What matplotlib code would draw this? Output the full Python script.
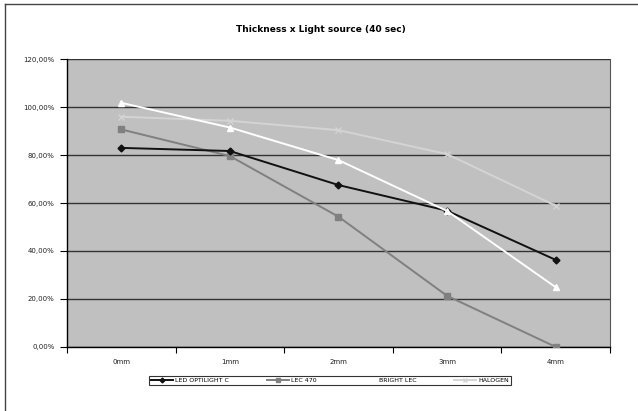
import matplotlib
matplotlib.use("Agg")
import matplotlib.pyplot as plt
from matplotlib.ticker import FuncFormatter, FixedLocator
import numpy as np

categories = ["0mm", "1mm", "2mm", "3mm", "4mm"]
led_optilight = [83.0, 81.7, 67.5, 56.8, 36.3]
lec_470 = [90.7, 79.6, 54.3, 21.3, 0.0]
bright_lec = [101.8, 91.5, 77.9, 56.7, 24.9]
halogen = [96.0, 94.3, 90.4, 80.4, 58.9]
y_ticks = [0, 20, 40, 60, 80, 100, 120]

fig = plt.figure(figsize=(6.38, 4.11), dpi=100)
fig.patch.set_facecolor("white")
ax = fig.add_axes([0.105, 0.156, 0.851, 0.700])
ax.set_facecolor("#c0c0c0")

x = np.arange(len(categories))
ax.plot(x, led_optilight, color="#111111", lw=1.4, marker="D", ms=3.5,
        label="LED OPTILIGHT C", zorder=5)
ax.plot(x, lec_470, color="#808080", lw=1.4, marker="s", ms=4,
        label="LEC 470", zorder=4)
ax.plot(x, bright_lec, color="white", lw=1.4, marker="^", ms=5,
        label="BRIGHT LEC", zorder=6)
ax.plot(x, halogen, color="#d4d4d4", lw=1.4, marker="x", ms=5, mew=1,
        label="HALOGEN", zorder=3)

ax.set_xlim(-0.5, len(categories) - 0.5)
ax.set_ylim(0, 120)
ax.set_yticks(y_ticks)
ax.yaxis.set_major_formatter(FuncFormatter(lambda v, p: f"{v:.2f}%".replace(".", ",")))
ax.yaxis.grid(True, color="#333333", lw=1)
ax.set_axisbelow(True)

ax.set_xticks(x)
ax.set_xticklabels(categories)
ax.xaxis.set_minor_locator(FixedLocator(np.arange(len(categories) + 1) - 0.5))
ax.tick_params(axis="x", which="major", length=0, labelsize=5, pad=9, labelcolor="#222222")
ax.tick_params(axis="x", which="minor", length=4, width=0.8, direction="out")
ax.tick_params(axis="y", length=5, width=0.8, labelsize=5, pad=4, labelcolor="#222222")

for side in ["left", "bottom"]:
    ax.spines[side].set_color("black")
    ax.spines[side].set_linewidth(1)
ax.spines["top"].set_visible(False)
ax.spines["right"].set_color("#555555")

fig.text(0.503, 1 - 30 / 411, "Thickness x Light source (40 sec)", fontsize=6.5,
         fontweight="bold", ha="center", va="center")

leg = fig.legend(loc="center", bbox_to_anchor=(0.517, 0.074), ncol=4, fontsize=4.5,
                 frameon=True, fancybox=False, edgecolor="black",
                 handlelength=3.5, columnspacing=6, borderpad=0.35,
                 handletextpad=0.4, markerscale=0.7)
leg.get_frame().set_linewidth(0.8)
leg.get_frame().set_facecolor("white")

# outer chart area border (left and top)
fig.add_artist(plt.Line2D([5 / 638, 5 / 638], [0, 1 - 4 / 411], color="#444444", lw=1,
                          transform=fig.transFigure))
fig.add_artist(plt.Line2D([5 / 638, 1], [1 - 4 / 411, 1 - 4 / 411], color="#444444", lw=1,
                          transform=fig.transFigure))

fig.savefig("out.png", dpi=100)
